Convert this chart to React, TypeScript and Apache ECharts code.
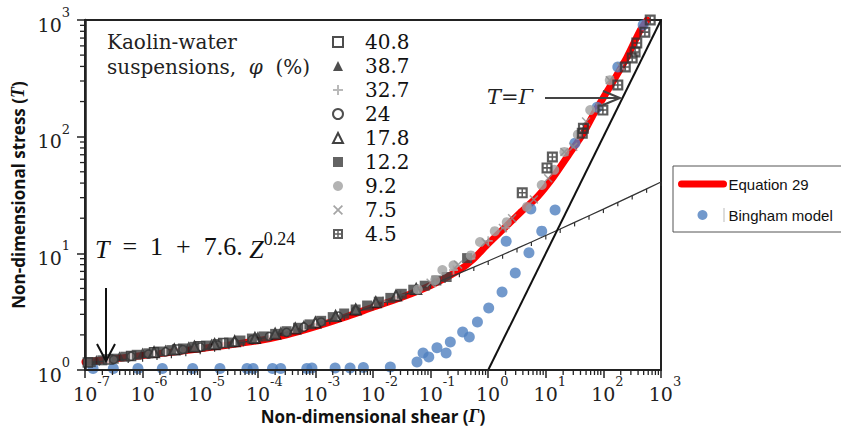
import React, { useEffect, useRef } from "react";
import * as echarts from "echarts";

// ---------- data ----------
const PHI_LABELS = ["40.8", "38.7", "32.7", "24", "17.8", "12.2", "9.2", "7.5", "4.5"];

type Pt = [number, number];

const S_408: Pt[] = [
  [1.12e-7, 1.16], [2.51e-7, 1.23], [6.31e-7, 1.32], [1.58e-6, 1.42],
  [3.98e-6, 1.5], [1e-5, 1.6], [2.51e-5, 1.7],
];
const S_387: Pt[] = [
  [1.58e-7, 1.22], [3.98e-7, 1.31], [1e-6, 1.41], [2.51e-6, 1.5], [6.31e-6, 1.6],
  [1.58e-5, 1.69], [3.98e-5, 1.8], [1e-4, 1.95], [2.51e-4, 2.15], [6.31e-4, 2.44],
];
const S_327: Pt[] = [
  [1.5e-2, 3.9], [3e-2, 4.4], [6e-2, 5.0], [0.12, 5.6], [0.25, 7.2],
  [0.5, 9.0], [1.0, 12.8], [2.0, 16.5],
];
const S_24: Pt[] = [
  [3.16e-7, 1.23], [6.31e-7, 1.31], [1.26e-6, 1.37], [2.51e-6, 1.43], [5.01e-6, 1.5],
  [1e-5, 1.57], [2e-5, 1.64], [3.98e-5, 1.72], [7.94e-5, 1.82], [1.58e-4, 1.94],
  [3.16e-4, 2.1], [6.31e-4, 2.33], [1.26e-3, 2.58], [2.51e-3, 2.9], [5.01e-3, 3.23],
];
const S_178: Pt[] = [
  [1.58e-6, 1.42], [3.55e-6, 1.5], [7.94e-6, 1.58], [1.78e-5, 1.66], [3.98e-5, 1.76],
  [8.91e-5, 1.88], [2e-4, 2.05], [4.47e-4, 2.27], [1e-3, 2.55], [2.24e-3, 2.9],
  [5.01e-3, 3.3], [1.12e-2, 3.8], [2.51e-2, 4.35], [5.62e-2, 4.95],
];
const S_122: Pt[] = [
  [1.26e-7, 1.17], [2.0e-7, 1.21], [3.16e-7, 1.25], [5.0e-7, 1.3], [7.9e-7, 1.35],
  [1.26e-6, 1.39], [2.0e-6, 1.44], [3.16e-6, 1.48], [5.0e-6, 1.53], [7.9e-6, 1.58],
  [1.26e-5, 1.62], [2.0e-5, 1.67], [3.16e-5, 1.72], [5.0e-5, 1.79], [7.9e-5, 1.86],
  [1.26e-4, 1.94], [2.0e-4, 2.04], [3.16e-4, 2.15], [5.0e-4, 2.3], [7.9e-4, 2.46],
  [1.26e-3, 2.64], [2.0e-3, 2.84], [3.16e-3, 3.05], [5.0e-3, 3.3], [7.9e-3, 3.57],
  [1.26e-2, 3.85], [2.0e-2, 4.15], [3.16e-2, 4.5], [5.0e-2, 4.88], [7.9e-2, 5.28],
  [0.126, 5.85], [0.19, 6.27], [0.43, 9.1],
];
const S_92: Pt[] = [
  [6e-2, 4.9], [0.12, 5.9], [0.16, 7.2], [0.25, 7.9], [0.5, 9.6],
  [0.72, 12.5], [1.3, 15.5], [2.1, 18.5], [4.7, 25], [8.5, 38.5], [14, 52],
  [21, 74], [36, 104], [59, 169], [129, 305],
];
const S_75: Pt[] = [
  [0.1, 5.6], [0.3, 8.0], [0.9, 12.4], [1.8, 16.5], [2.6, 20],
  [6.2, 29], [11, 44], [21, 74], [30, 82], [50, 135], [87, 179], [129, 305], [200, 400],
];
const S_45: Pt[] = [
  [3.9, 33], [10.5, 54], [13, 67], [43, 107], [45, 118], [98, 169],
  [178, 277], [240, 395], [316, 472], [355, 531], [380, 634], [525, 787], [650, 1000],
];

const BINGHAM: Pt[] = [
  [1.38e-7, 1.03], [3.1e-7, 1.03], [8.3e-7, 1.03], [2.2e-6, 1.03], [7.4e-6, 1.03],
  [2.2e-5, 1.03], [6.5e-5, 1.03], [8.3e-5, 1.03], [1.8e-4, 1.03], [2.5e-4, 1.03],
  [7.1e-4, 1.03], [8.7e-4, 1.04], [2.2e-3, 1.04], [4e-3, 1.04], [6.8e-3, 1.05],
  [2e-2, 1.06], [5.8e-2, 1.17], [7.4e-2, 1.4], [9.3e-2, 1.29], [0.129, 1.55],
  [0.186, 1.4], [0.22, 1.74], [0.36, 2.12], [0.47, 1.92], [0.65, 2.58],
  [1.02, 3.4], [1.74, 4.66], [2.95, 6.78], [5.1, 10.1], [8.5, 15.5],
  [14.5, 23.5], [2.05, 12.7], [5.5, 24], [32, 88], [78, 179], [178, 395], [490, 904],
];

const EQ29: Pt[] = [
  [1e-7, 1.17], [1e-6, 1.33], [1e-5, 1.52], [1e-4, 1.78], [3.16e-4, 2.0],
  [1e-3, 2.35], [3.16e-3, 2.82], [1e-2, 3.45], [3.16e-2, 4.2], [0.1, 5.3],
  [0.316, 7.2], [0.55, 8.9], [0.95, 11.8], [1.8, 16.0], [3.55, 22.2], [7.1, 30.4],
  [13.5, 45], [26, 72], [45, 107], [71, 163], [129, 266], [257, 481],
  [437, 819], [575, 1000],
];

// T = 1 + 7.6 Z^0.24 line, values read at quarter decades
const POWER_LAW: Pt[] = [
  [1e-7, 1.159], [1.778e-7, 1.182], [3.162e-7, 1.209], [5.623e-7, 1.24],
  [1e-6, 1.276], [1.778e-6, 1.317], [3.162e-6, 1.364], [5.623e-6, 1.418],
  [1e-5, 1.48], [1.778e-5, 1.551], [3.162e-5, 1.632], [5.623e-5, 1.726],
  [1e-4, 1.833], [1.778e-4, 1.957], [3.162e-4, 2.098], [5.623e-4, 2.261],
  [1e-3, 2.448], [1.778e-3, 2.663], [3.162e-3, 2.909], [5.623e-3, 3.192],
  [1e-2, 3.517], [1.778e-2, 3.889], [3.162e-2, 4.317], [5.623e-2, 4.809],
  [0.1, 5.373], [0.1778, 6.021], [0.3162, 6.765], [0.5623, 7.619],
  [1, 8.6], [1.778, 9.725], [3.162, 11.02], [5.623, 12.5],
  [10, 14.21], [17.78, 16.16], [31.62, 18.41], [56.23, 20.99],
  [100, 23.95], [177.8, 27.35], [316.2, 31.26], [562.3, 35.74], [1000, 40.88],
];

const IDENTITY: Pt[] = [[1, 1], [1000, 1000]];

const X_MIN = 1e-7;
const X_MAX = 1000;
const Y_MIN = 1;
const Y_MAX = 1000;
const X_DECADES = [-7, -6, -5, -4, -3, -2, -1, 0, 1, 2];
const Y_DECADES = [0, 1, 2];
const MINOR_STEPS = [2, 3, 4, 5, 6, 7, 8, 9];

// ---------- symbols ----------
const PLUS = "path://M4,0H6V4H10V6H6V10H4V6H0V4H4Z";
const CROSS =
  "path://M1.2,0L5,3.8L8.8,0L10,1.2L6.2,5L10,8.8L8.8,10L5,6.2L1.2,10L0,8.8L3.8,5L0,1.2Z";
const GRID_SQ =
  "path://M0,0H10V10H0Z M2,2V4.3H4.3V2Z M5.7,2V4.3H8V2Z M2,5.7V8H4.3V5.7Z M5.7,5.7V8H8V5.7Z";
const TICK = "path://M0,0H1V4H0Z";

const SERIF = "DejaVu Serif";

export default function App() {
  const ref = useRef<HTMLDivElement>(null);

  useEffect(() => {
    if (!ref.current) return;
    const chart = echarts.init(ref.current, undefined, { renderer: "svg" });

    const xMinor: Pt[] = [];
    X_DECADES.forEach((e) => MINOR_STEPS.forEach((k) => xMinor.push([k * Math.pow(10, e), Y_MIN])));
    const yMinor: Pt[] = [];
    Y_DECADES.forEach((e) => MINOR_STEPS.forEach((k) => yMinor.push([X_MIN, k * Math.pow(10, e)])));

    const labelRich = {
      pn: { width: 13, lineHeight: 28 },
      pz: { width: 8, lineHeight: 28 },
      b: { fontFamily: SERIF, fontSize: 19, lineHeight: 28, verticalAlign: "bottom", color: "#222" },
      s: { fontFamily: SERIF, fontSize: 13, lineHeight: 14, verticalAlign: "top", color: "#222" },
    };

    const nameStyle = {
      fontFamily: "Open Sans",
      fontWeight: "bold",
      fontSize: 17,
      lineHeight: 22,
      color: "#111",
      rich: {
        i: { fontFamily: "Liberation Serif", fontStyle: "italic", fontWeight: "bold", fontSize: 18, lineHeight: 22, color: "#111" },
      },
    };

    const phiSeries = [
      { name: "40.8", data: S_408, symbol: "rect", symbolSize: 9, itemStyle: { color: "#fff", borderColor: "#222", borderWidth: 1.5 } },
      { name: "38.7", data: S_387, symbol: "triangle", symbolSize: 10, itemStyle: { color: "#222" } },
      { name: "32.7", data: S_327, symbol: PLUS, symbolSize: 9, itemStyle: { color: "#a8a8a8" } },
      { name: "24", data: S_24, symbol: "circle", symbolSize: 8, itemStyle: { color: "#fff", borderColor: "#222", borderWidth: 1.5 } },
      { name: "17.8", data: S_178, symbol: "triangle", symbolSize: 10, itemStyle: { color: "#fff", borderColor: "#111", borderWidth: 2 } },
      { name: "12.2", data: S_122, symbol: "rect", symbolSize: 10, itemStyle: { color: "#3c3c3c" } },
      { name: "9.2", data: S_92, symbol: "circle", symbolSize: 10, itemStyle: { color: "#a0a0a0" } },
      { name: "7.5", data: S_75, symbol: CROSS, symbolSize: 9, itemStyle: { color: "#8e8e8e" } },
      { name: "4.5", data: S_45, symbol: GRID_SQ, symbolSize: 11, itemStyle: { color: "#333" } },
    ].map((s) => ({ type: "scatter", ...s, z: 5 }));

    chart.setOption({
      animation: false,
      backgroundColor: "#fff",
      grid: {
        left: 85,
        top: 20,
        width: 576,
        height: 350,
        outerBoundsMode: "none",
        show: true,
        borderColor: "#222",
        borderWidth: 2,
        backgroundColor: "transparent",
      },
      xAxis: {
        type: "log",
        logBase: 10,
        min: X_MIN,
        max: X_MAX,
        interval: 1,
        z: 10,
        splitLine: { show: false },
        axisLine: { show: true, lineStyle: { color: "#222", width: 2 } },
        axisTick: { show: true, length: 8, inside: false, lineStyle: { color: "#222", width: 1.5 } },
        axisLabel: {
          margin: 5,
          hideOverlap: false,
          showMinLabel: true,
          showMaxLabel: true,
          formatter: (v: number) => {
            const e = Math.round(Math.log10(v));
            return `{${e < 0 ? "pn" : "pz"}| }{b|10}{s|${e}}`;
          },
          rich: labelRich,
        },
        name: "Non-dimensional shear ({i|Γ})",
        nameLocation: "middle",
        nameGap: 35,
        nameMoveOverlap: false,
        nameTextStyle: nameStyle,
      },
      yAxis: {
        type: "log",
        logBase: 10,
        min: Y_MIN,
        max: Y_MAX,
        interval: 1,
        z: 10,
        splitLine: { show: false },
        axisLine: { show: true, lineStyle: { color: "#222", width: 2.5 } },
        axisTick: { show: true, length: 8, inside: false, lineStyle: { color: "#222", width: 1.5 } },
        axisLabel: {
          margin: 15,
          hideOverlap: false,
          formatter: (v: number) => `{b|10}{s|${Math.round(Math.log10(v))}}`,
          rich: labelRich,
        },
        name: "Non-dimensional stress ({i|T})",
        nameLocation: "middle",
        nameGap: 56,
        nameMoveOverlap: false,
        nameTextStyle: nameStyle,
      },
      legend: [
        {
          data: PHI_LABELS,
          orient: "vertical",
          left: 327,
          top: 27,
          itemWidth: 10,
          itemHeight: 10,
          itemGap: 4,
          selectedMode: false,
          formatter: (n: string) => `{p| }${n}`,
          textStyle: {
            fontFamily: SERIF,
            fontSize: 20,
            lineHeight: 20,
            color: "#111",
            rich: { p: { width: 17 } },
          },
        },
        {
          data: [{ name: "Equation 29", itemStyle: { opacity: 0 } }, { name: "Bingham model" }],
          orient: "vertical",
          left: 673,
          top: 166,
          padding: [10, 12, 9, 5],
          itemWidth: 42,
          itemHeight: 10,
          itemGap: 15,
          borderColor: "#555",
          borderWidth: 1,
          selectedMode: false,
          lineStyle: { width: 7, cap: "round" },
          textStyle: { fontFamily: "Liberation Sans", fontSize: 15, lineHeight: 16, color: "#111" },
        },
      ],
      graphic: [
        {
          type: "text",
          left: 107,
          top: 29,
          z: 100,
          style: {
            text: "Kaolin-water\nsuspensions,  {i|φ}  (%)",
            font: `20px "${SERIF}"`,
            fill: "#222",
            lineHeight: 25,
            rich: { i: { fontFamily: SERIF, fontStyle: "italic", fontSize: 20, fill: "#222" } },
          },
        },
        {
          type: "text",
          left: 95,
          top: 230,
          z: 100,
          style: {
            text: "{i|T}  =  1  +  7.6. {i|Z}{s|0.24}",
            font: `26px "Liberation Serif"`,
            fill: "#111",
            rich: {
              i: { fontFamily: "Liberation Serif", fontStyle: "italic", fontSize: 26, lineHeight: 32, verticalAlign: "bottom" },
              s: { fontFamily: "Liberation Serif", fontSize: 18, lineHeight: 18, verticalAlign: "top" },
            },
          },
        },
        { type: "line", z: 100, shape: { x1: 106, y1: 288, x2: 106, y2: 360 }, style: { stroke: "#111", lineWidth: 2 } },
        {
          type: "polyline",
          z: 100,
          shape: { points: [[97, 344], [106, 361], [115, 344]] },
          style: { stroke: "#111", lineWidth: 2, fill: "none" },
        },
        {
          type: "text",
          left: 487,
          top: 86,
          z: 100,
          style: { text: "T=Γ", font: `italic 21px "${SERIF}"`, fill: "#222" },
        },
        { type: "line", z: 100, shape: { x1: 545, y1: 98, x2: 619, y2: 98 }, style: { stroke: "#444", lineWidth: 2 } },
        {
          type: "polyline",
          z: 100,
          shape: { points: [[603, 91], [620, 98], [603, 105]] },
          style: { stroke: "#444", lineWidth: 2, fill: "none" },
        },
        { type: "line", z: 100, shape: { x1: 724, y1: 208, x2: 724, y2: 222 }, style: { stroke: "#bbb", lineWidth: 1 } },
      ],
      series: [
        {
          type: "custom",
          name: "xMinor",
          silent: true,
          data: xMinor,
          z: 10,
          renderItem: (_p: any, api: any) => {
            const c = api.coord([api.value(0), api.value(1)]);
            return {
              type: "line",
              shape: { x1: c[0], y1: c[1], x2: c[0], y2: c[1] + 5 },
              style: { stroke: "#222", lineWidth: 1.3 },
            };
          },
        },
        {
          type: "custom",
          name: "yMinor",
          silent: true,
          data: yMinor,
          z: 10,
          renderItem: (_p: any, api: any) => {
            const c = api.coord([api.value(0), api.value(1)]);
            return {
              type: "line",
              shape: { x1: c[0] - 5, y1: c[1], x2: c[0], y2: c[1] },
              style: { stroke: "#222", lineWidth: 1.3 },
            };
          },
        },
        {
          type: "line",
          name: "Equation 29",
          data: EQ29,
          smooth: 0.2,
          symbol: "none",
          color: "#ff0000",
          lineStyle: { color: "#ff0000", width: 7, cap: "round", join: "round" },
          z: 2,
        },
        {
          type: "scatter",
          name: "Bingham model",
          data: BINGHAM,
          symbol: "circle",
          symbolSize: 11,
          itemStyle: { color: "#4f80bf" },
          z: 3,
        },
        {
          type: "line",
          name: "power law",
          data: POWER_LAW,
          symbol: TICK,
          symbolSize: [1.2, 4],
          symbolOffset: [0, 2],
          symbolKeepAspect: false,
          itemStyle: { color: "#333" },
          lineStyle: { color: "#333", width: 1.3 },
          z: 4,
        },
        {
          type: "line",
          name: "T=Γ",
          data: IDENTITY,
          symbol: "none",
          lineStyle: { color: "#111", width: 2 },
          z: 4,
        },
        ...phiSeries,
      ],
    });

    return () => chart.dispose();
  }, []);

  return (
    <div
      ref={ref}
      style={{ position: "absolute", left: 0, top: 0, width: 841, height: 431, background: "#fff" }}
    />
  );
}
